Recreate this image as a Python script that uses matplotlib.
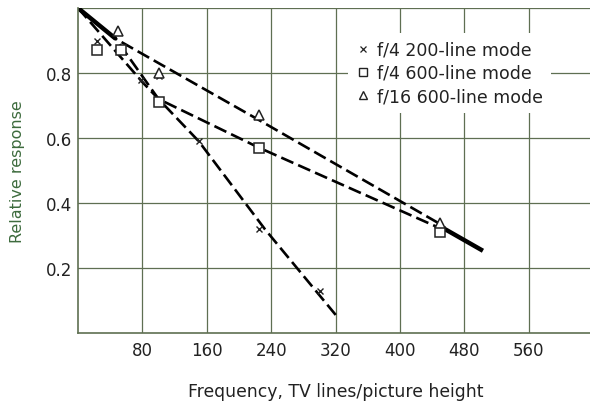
import matplotlib
matplotlib.use("Agg")
import matplotlib.pyplot as plt
from matplotlib.lines import Line2D

# ---- data ----
x_200 = [24, 78, 100, 150, 225, 300]
y_200 = [0.90, 0.78, 0.79, 0.59, 0.32, 0.13]

x_f4_600 = [24, 53, 100, 225, 450]
y_f4_600 = [0.87, 0.87, 0.71, 0.57, 0.31]

x_f16_600 = [50, 100, 225, 450]
y_f16_600 = [0.93, 0.80, 0.67, 0.34]

# fitted curves
fit_x_200 = [0, 80, 150, 232, 321]
fit_y_200 = [1.0, 0.772, 0.59, 0.32, 0.053]

fit_x_f4 = [0, 47, 100, 225, 450]
fit_y_f4 = [1.0, 0.905, 0.72, 0.57, 0.322]

fit_x_f16 = [0, 47, 225, 450]
fit_y_f16 = [1.0, 0.905, 0.655, 0.335]

# merged (solid) segments where the curves overlap
merge_start_x = [0, 47]
merge_start_y = [1.0, 0.905]
merge_end_x = [452, 503]
merge_end_y = [0.325, 0.253]

x_ticks = [80, 160, 240, 320, 400, 480, 560]
y_ticks = [0.2, 0.4, 0.6, 0.8]
y_ticklabels = ["0.2", "0.4", "0.6", "0.8"]
legend_labels = ["f/4 200-line mode", "f/4 600-line mode", "f/16 600-line mode"]

plt.rcParams['font.family'] = ['DejaVu Sans']

fig = plt.figure(figsize=(5.9, 4.02), dpi=100)
ax = fig.add_axes([78/590, 68/402, 512/590, 325/402])
ax.set_xlim(0, 636)
ax.set_ylim(0, 1.0)

grid_c = '#5f6f52'
ax.set_xticks(x_ticks)
ax.set_yticks(y_ticks)
ax.set_yticklabels(y_ticklabels)
ax.tick_params(length=0, labelsize=12, colors='#222222')
ax.tick_params(axis='x', pad=6)
ax.tick_params(axis='y', pad=4)
for v in x_ticks:
    ax.axvline(v, color=grid_c, lw=0.9, zorder=0)
for v in y_ticks + [1.0]:
    ax.axhline(v, color=grid_c, lw=0.9, zorder=0)
for s in ['top', 'right']:
    ax.spines[s].set_visible(False)
for s in ['left', 'bottom']:
    ax.spines[s].set_color(grid_c)
    ax.spines[s].set_linewidth(1.2)

dash = (5, 2)
ax.plot(fit_x_200, fit_y_200, color='black', lw=1.9, dashes=dash, zorder=2)
ax.plot(fit_x_f4, fit_y_f4, color='black', lw=1.9, dashes=dash, zorder=2)
ax.plot(fit_x_f16, fit_y_f16, color='black', lw=1.9, dashes=dash, zorder=2)
ax.plot(merge_start_x, merge_start_y, color='black', lw=3.2, solid_capstyle='butt', zorder=2)
ax.plot(merge_end_x, merge_end_y, color='black', lw=3.2, solid_capstyle='butt', zorder=2)

mc = '#222222'
ax.plot(x_200, y_200, ls='none', marker='x', ms=5, mew=1.0, color=mc, zorder=3)
ax.plot(x_f4_600, y_f4_600, ls='none', marker='s', ms=6.5, mew=1.1, mfc='white', mec=mc, zorder=3)
ax.plot(x_f16_600, y_f16_600, ls='none', marker='^', ms=7.5, mew=1.1, mfc='white', mec=mc, zorder=3)

handles = [
    Line2D([], [], ls='none', marker='x', ms=4.5, mew=0.9, color=mc),
    Line2D([], [], ls='none', marker='s', ms=5.5, mew=1.0, mfc='white', mec=mc),
    Line2D([], [], ls='none', marker='^', ms=6, mew=1.0, mfc='white', mec=mc),
]
leg = ax.legend(handles, legend_labels, loc='upper left', bbox_to_anchor=(0.51, 0.95),
                frameon=True, fontsize=12.5, handlelength=0.8, handletextpad=0.45,
                labelspacing=0.3, borderpad=0.45, fancybox=False)
leg.get_frame().set_facecolor('white')
leg.get_frame().set_edgecolor('none')
leg.get_frame().set_alpha(1)
for t in leg.get_texts():
    t.set_color('#222222')

ax.set_ylabel("Relative response", fontsize=11.5, color='#3d6b3d')
ax.yaxis.set_label_coords(-0.104, 0.5)
fig.text(336/590, 1 - 397/402, "Frequency, TV lines/picture height", ha='center', va='baseline',
         fontsize=12.4, color='#222222')

fig.savefig("out.png", dpi=100)
